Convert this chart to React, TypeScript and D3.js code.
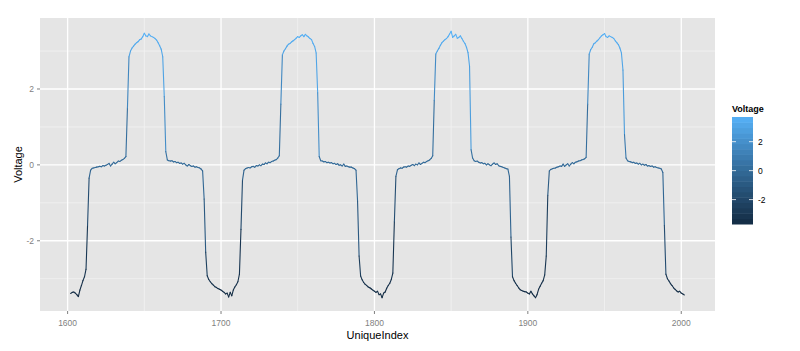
import React from "react";
import * as d3 from "d3";

// UniqueIndex runs from indexStart, one step per reading
const indexStart = 1602;

// Voltage readings, 10 per row (1602 .. 2002)
const voltage = [
  -3.39, -3.36, -3.35, -3.38, -3.42, -3.47, -3.30, -3.18, -3.05, -2.95,
  -2.75, -1.60, -0.35, -0.14, -0.09, -0.08, -0.07, -0.06, -0.05, -0.04,
  -0.05, -0.02, -0.03, -0.01, 0.01, 0.04, -0.03, 0.02, 0.07, 0.03,
  0.06, 0.10, 0.09, 0.12, 0.14, 0.17, 0.22, 1.50, 2.85, 3.00,
  3.08, 3.13, 3.18, 3.22, 3.25, 3.30, 3.32, 3.38, 3.47, 3.40,
  3.38, 3.45, 3.40, 3.38, 3.36, 3.33, 3.29, 3.22, 3.14, 3.05,
  2.85, 1.80, 0.35, 0.13, 0.11, 0.10, 0.11, 0.08, 0.09, 0.06,
  0.07, 0.04, 0.05, 0.02, 0.04, 0.00, -0.03, 0.01, -0.02, -0.04,
  -0.03, -0.06, -0.05, -0.07, -0.08, -0.11, -0.16, -0.90, -2.30, -2.92,
  -3.02, -3.08, -3.13, -3.17, -3.21, -3.23, -3.26, -3.28, -3.30, -3.33,
  -3.36, -3.40, -3.38, -3.48, -3.36, -3.45, -3.30, -3.22, -3.16, -3.08,
  -2.88, -1.70, -0.40, -0.14, -0.10, -0.08, -0.07, -0.08, -0.05, -0.04,
  -0.06, -0.02, -0.03, 0.00, -0.02, 0.02, 0.01, 0.05, 0.03, 0.07,
  0.06, 0.09, 0.10, 0.12, 0.14, 0.18, 0.24, 1.60, 2.90, 3.00,
  3.06, 3.13, 3.18, 3.20, 3.24, 3.27, 3.30, 3.34, 3.38, 3.36,
  3.40, 3.43, 3.38, 3.44, 3.40, 3.37, 3.33, 3.30, 3.20, 3.12,
  2.95, 1.90, 0.22, 0.11, 0.10, 0.08, 0.09, 0.06, 0.07, 0.05,
  0.06, 0.03, 0.04, 0.01, 0.03, -0.01, 0.00, -0.03, 0.02, -0.04,
  -0.03, -0.05, -0.06, -0.06, -0.08, -0.10, -0.14, -0.95, -2.40, -2.93,
  -3.03, -3.10, -3.15, -3.18, -3.22, -3.24, -3.27, -3.30, -3.33, -3.36,
  -3.33, -3.42, -3.40, -3.50, -3.38, -3.35, -3.25, -3.18, -3.12, -3.02,
  -2.85, -1.50, -0.30, -0.13, -0.10, -0.08, -0.09, -0.06, -0.05, -0.06,
  -0.03, -0.04, -0.01, 0.01, -0.02, 0.02, 0.00, 0.05, 0.01, 0.04,
  0.07, 0.06, 0.09, 0.11, 0.13, 0.17, 0.24, 1.70, 2.92, 3.00,
  3.07, 3.15, 3.22, 3.26, 3.30, 3.33, 3.38, 3.45, 3.52, 3.36,
  3.40, 3.44, 3.34, 3.36, 3.40, 3.33, 3.26, 3.20, 3.10, 2.96,
  2.60, 0.40, 0.18, 0.11, 0.09, 0.10, 0.07, 0.05, 0.06, 0.03,
  0.04, 0.00, 0.03, 0.00, -0.02, 0.02, 0.05, 0.01, 0.03, -0.02,
  -0.04, -0.05, -0.07, -0.08, -0.10, -0.11, -0.30, -1.90, -2.95, -3.05,
  -3.12, -3.18, -3.24, -3.29, -3.31, -3.33, -3.34, -3.35, -3.38, -3.40,
  -3.33, -3.40, -3.45, -3.50, -3.42, -3.28, -3.20, -3.12, -3.05, -2.90,
  -2.40, -0.80, -0.16, -0.12, -0.10, -0.09, -0.08, -0.06, -0.05, -0.03,
  -0.04, 0.02, -0.04, 0.00, 0.03, -0.03, 0.02, 0.06, 0.03, 0.07,
  0.08, 0.10, 0.11, 0.13, 0.14, 0.16, 0.20, 1.60, 2.92, 3.04,
  3.10, 3.19, 3.22, 3.26, 3.30, 3.35, 3.40, 3.43, 3.46, 3.38,
  3.36, 3.40, 3.38, 3.36, 3.33, 3.27, 3.22, 3.17, 3.08, 2.95,
  2.50, 0.80, 0.18, 0.11, 0.09, 0.08, 0.06, 0.07, 0.04, 0.05,
  0.02, 0.04, 0.00, 0.02, -0.01, 0.01, -0.03, -0.02, -0.04, -0.03,
  -0.06, -0.05, -0.07, -0.08, -0.09, -0.11, -0.20, -1.60, -2.88, -3.00,
  -3.06, -3.13, -3.18, -3.24, -3.28, -3.32, -3.35, -3.33, -3.38, -3.40,
  -3.43,
];

const xBreaks = [1600, 1700, 1800, 1900, 2000];
const xMinor = [1650, 1750, 1850, 1950];
const yBreaks = [-2, 0, 2];
const yMinor = [-3, -1, 1, 3];
const legendBreaks = [-2, 0, 2];

const width = 800;
const height = 351;
const panel = { left: 40, right: 715, top: 18, bottom: 311 };
const bar = { x: 732, y: 117, w: 21, h: 107, nbin: 20 };

const expand = (ext: [number, number]) => {
  const pad = (ext[1] - ext[0]) * 0.05;
  return [ext[0] - pad, ext[1] + pad];
};

const App = () => {
  const data = voltage.map((v, i) => ({ idx: indexStart + i, v }));
  const vExtent = d3.extent(voltage) as [number, number];

  const x = d3
    .scaleLinear()
    .domain(expand([indexStart, indexStart + voltage.length - 1]))
    .range([panel.left, panel.right]);
  const y = d3.scaleLinear().domain(expand(vExtent)).range([panel.bottom, panel.top]);

  const colour = d3
    .scaleLinear<string>()
    .domain(vExtent)
    .range(["#132B43", "#56B1F7"])
    .interpolate(d3.interpolateLab);

  // colourbar: data range sits half a bin inside each end
  const binH = bar.h / bar.nbin;
  const legendY = d3
    .scaleLinear()
    .domain(vExtent)
    .range([bar.y + bar.h - binH / 2, bar.y + binH / 2]);
  const bins = d3.range(bar.nbin).map((i) => {
    const t = (i + 0.5) / bar.nbin;
    return vExtent[0] + t * (vExtent[1] - vExtent[0]);
  });

  const font = "'Liberation Sans', Arial, sans-serif";
  const tickGrey = "#7f7f7f";

  return (
    <div style={{ position: "fixed", left: 0, top: 0 }}>
      <svg width={width} height={height} style={{ display: "block", background: "#fff" }}>
        <rect
          x={panel.left}
          y={panel.top}
          width={panel.right - panel.left}
          height={panel.bottom - panel.top}
          fill="#e5e5e5"
        />
        {xMinor.map((d) => (
          <line key={"xm" + d} x1={x(d)} x2={x(d)} y1={panel.top} y2={panel.bottom} stroke="#f2f2f2" strokeWidth={0.8} />
        ))}
        {yMinor.map((d) => (
          <line key={"ym" + d} x1={panel.left} x2={panel.right} y1={y(d)} y2={y(d)} stroke="#f2f2f2" strokeWidth={0.8} />
        ))}
        {xBreaks.map((d) => (
          <line key={"xg" + d} x1={x(d)} x2={x(d)} y1={panel.top} y2={panel.bottom} stroke="#fff" strokeWidth={1.3} />
        ))}
        {yBreaks.map((d) => (
          <line key={"yg" + d} x1={panel.left} x2={panel.right} y1={y(d)} y2={y(d)} stroke="#fff" strokeWidth={1.3} />
        ))}

        <g strokeWidth={1.1} strokeLinecap="round" fill="none">
          {data.slice(1).map((d, i) => (
            <line
              key={d.idx}
              x1={x(data[i].idx)}
              y1={y(data[i].v)}
              x2={x(d.idx)}
              y2={y(d.v)}
              stroke={colour(data[i].v)}
            />
          ))}
        </g>

        {/* x axis */}
        {xBreaks.map((d) => (
          <g key={"xt" + d}>
            <line x1={x(d)} x2={x(d)} y1={panel.bottom} y2={panel.bottom + 3} stroke={tickGrey} />
            <text x={x(d)} y={panel.bottom + 15} textAnchor="middle" fontSize={8.5} fill={tickGrey} fontFamily={font}>
              {d}
            </text>
          </g>
        ))}
        {/* y axis */}
        {yBreaks.map((d) => (
          <g key={"yt" + d}>
            <line x1={panel.left - 3} x2={panel.left} y1={y(d)} y2={y(d)} stroke={tickGrey} />
            <text x={panel.left - 6} y={y(d) + 3} textAnchor="end" fontSize={8.5} fill={tickGrey} fontFamily={font}>
              {d}
            </text>
          </g>
        ))}
        <text x={(panel.left + panel.right) / 2} y={338.5} textAnchor="middle" fontSize={11} fontFamily={font} fill="#000">
          UniqueIndex
        </text>
        <text
          transform={`translate(22,${(panel.top + panel.bottom) / 2}) rotate(-90)`}
          textAnchor="middle"
          fontSize={11}
          fontFamily={font}
          fill="#000"
        >
          Voltage
        </text>

        {/* legend */}
        <text x={bar.x} y={bar.y - 5} fontSize={9} fontWeight="bold" fontFamily={font} fill="#000">
          Voltage
        </text>
        {bins.map((v, i) => (
          <rect
            key={"bin" + i}
            x={bar.x}
            y={bar.y + bar.h - (i + 1) * binH}
            width={bar.w}
            height={binH + 0.5}
            fill={colour(v)}
          />
        ))}
        {legendBreaks.map((d) => (
          <g key={"lb" + d}>
            <line x1={bar.x} x2={bar.x + 4} y1={legendY(d)} y2={legendY(d)} stroke="#fff" strokeWidth={0.8} />
            <line x1={bar.x + bar.w - 4} x2={bar.x + bar.w} y1={legendY(d)} y2={legendY(d)} stroke="#fff" strokeWidth={0.8} />
            <text x={bar.x + bar.w + 5} y={legendY(d) + 3} fontSize={8.5} fontFamily={font} fill="#000">
              {d}
            </text>
          </g>
        ))}
      </svg>
    </div>
  );
};

export default App;
